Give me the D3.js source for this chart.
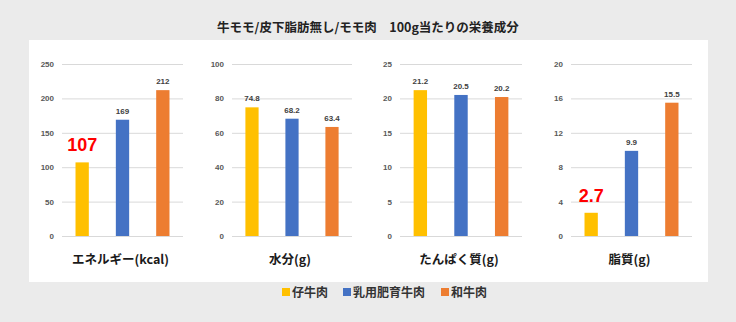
<!DOCTYPE html>
<html>
<head>
<meta charset="utf-8">
<script src="https://cdn.jsdelivr.net/npm/d3@7"></script>
<style>
  html, body { margin: 0; padding: 0; background: #ebebeb; }
  svg { display: block; }
</style>
</head>
<body>
<svg id="chart" width="736" height="322"></svg>
<script>
// Beef round (lean, no subcutaneous fat) — nutrients per 100g
const series = ["仔牛肉", "乳用肥育牛肉", "和牛肉"];
const colors = ["#FFC000", "#4472C4", "#ED7D31"];

const nutrientTitles = ["エネルギー(kcal)", "水分(g)", "たんぱく質(g)", "脂質(g)"];
const energyValues  = [107, 169, 212];
const waterValues   = [74.8, 68.2, 63.4];
const proteinValues = [21.2, 20.5, 20.2];
const fatValues     = [2.7, 9.9, 15.5];

const energyTicks  = [0, 50, 100, 150, 200, 250];
const waterTicks   = [0, 20, 40, 60, 80, 100];
const proteinTicks = [0, 5, 10, 15, 20, 25];
const fatTicks     = [0, 4, 8, 12, 16, 20];

// values called out in large red type
const highlightEnergy = [107];
const highlightFat    = [2.7];

const title = "牛モモ/皮下脂肪無し/モモ肉　100g当たりの栄養成分";

const panels = [
  { title: nutrientTitles[0], values: energyValues,  ticks: energyTicks,  highlight: highlightEnergy, x0: 62,  x1: 183 },
  { title: nutrientTitles[1], values: waterValues,   ticks: waterTicks,   highlight: [],              x0: 232, x1: 352 },
  { title: nutrientTitles[2], values: proteinValues, ticks: proteinTicks, highlight: [],              x0: 400, x1: 522 },
  { title: nutrientTitles[3], values: fatValues,     ticks: fatTicks,     highlight: highlightFat,    x0: 571, x1: 692 }
];

const svg = d3.select("#chart");
const JP = "'Noto Sans CJK JP', 'Noto Sans', sans-serif";
const NUM = "'Liberation Sans', Arial, sans-serif";

svg.append("rect").attr("width", 736).attr("height", 322).attr("fill", "#ebebeb");

svg.append("text")
  .attr("x", 368).attr("y", 32)
  .attr("text-anchor", "middle")
  .attr("font-family", JP).attr("font-size", 12.5).attr("font-weight", "bold")
  .attr("fill", "#222")
  .text(title);

// white plotting card
svg.append("rect")
  .attr("x", 29).attr("y", 40).attr("width", 679).attr("height", 242)
  .attr("fill", "#ffffff");

const yTop = 64, yBottom = 236;

panels.forEach(p => {
  const g = svg.append("g");
  const x = d3.scaleBand().domain(series).range([p.x0, p.x1]).paddingInner(0.67).paddingOuter(0.335);
  const y = d3.scaleLinear().domain([p.ticks[0], p.ticks[p.ticks.length - 1]]).range([yBottom, yTop]);

  // gridlines + tick labels via axis
  const axis = d3.axisLeft(y).tickValues(p.ticks).tickSize(-(p.x1 - p.x0)).tickPadding(8);
  const ag = g.append("g").attr("transform", `translate(${p.x0},0)`).call(axis);
  ag.select(".domain").remove();
  ag.selectAll(".tick line").attr("stroke", "#d9d9d9").attr("stroke-width", 1);
  ag.selectAll(".tick text")
    .attr("font-family", NUM).attr("font-size", 8).attr("font-weight", "bold")
    .attr("fill", "#595959");

  // bars
  g.selectAll("rect.bar").data(p.values).join("rect")
    .attr("class", "bar")
    .attr("x", (d, i) => x(series[i]))
    .attr("width", x.bandwidth())
    .attr("y", d => y(d))
    .attr("height", d => y(0) - y(d))
    .attr("fill", (d, i) => colors[i]);

  // value labels
  g.selectAll("text.val").data(p.values).join("text")
    .attr("class", "val")
    .attr("x", (d, i) => x(series[i]) + x.bandwidth() / 2)
    .attr("y", d => y(d) - (p.highlight.includes(d) ? 11 : 6))
    .attr("text-anchor", "middle")
    .attr("font-family", NUM)
    .attr("font-weight", "bold")
    .attr("font-size", d => p.highlight.includes(d) ? 18 : 8)
    .attr("fill", d => p.highlight.includes(d) ? "#ff0000" : "#404040")
    .text(d => d);

  // axis title
  g.append("text")
    .attr("x", (p.x0 + p.x1) / 2 - 2).attr("y", 264)
    .attr("text-anchor", "middle")
    .attr("font-family", JP).attr("font-size", 12.5).attr("font-weight", "bold")
    .attr("fill", "#1a1a1a")
    .text(p.title);
});

// legend
const legendX = [282, 343, 441];
const lg = svg.append("g");
series.forEach((s, i) => {
  lg.append("rect").attr("x", legendX[i]).attr("y", 288).attr("width", 8).attr("height", 8).attr("fill", colors[i]);
  lg.append("text")
    .attr("x", legendX[i] + 10).attr("y", 296.5)
    .attr("font-family", JP).attr("font-size", 12).attr("font-weight", "bold")
    .attr("fill", "#333")
    .text(s);
});
</script>
</body>
</html>
